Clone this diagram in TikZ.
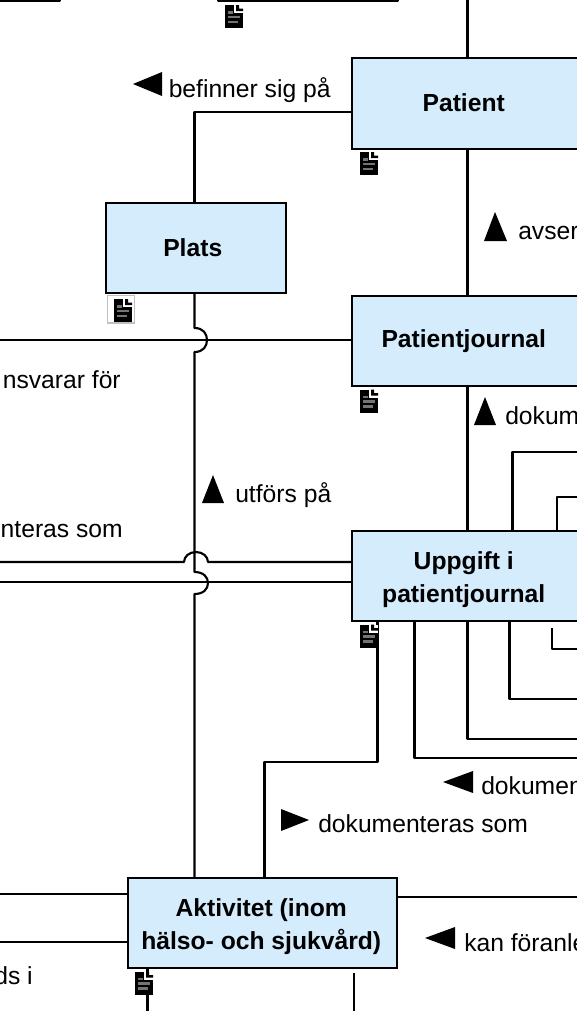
\documentclass[tikz,border=0pt]{standalone}
\usepackage{fontspec}
\setmainfont{Liberation Sans}
\definecolor{boxfill}{HTML}{D4ECFC}
\newcommand{\sh}{\hspace*{2.2pt}}
\newcommand{\low}{\rule{0pt}{18.5pt}}
\tikzset{
  x=0.75pt,y=-0.75pt,
  entity/.style={draw=black,line width=1.8pt,fill=boxfill,inner sep=0pt,align=center,
    font=\fontsize{18.5}{24.6}\selectfont\bfseries},
  link/.style={draw=black,line width=1.6pt,line join=round},
  lab/.style={font=\fontsize{18.5}{22}\selectfont,inner sep=0pt,text=black},
  pics/docicon/.style={code={
    \fill[black] (-9,-11.5) rectangle (9,11.5);
    \fill[white] (0,-11.5) rectangle (9,-3.5);
    \fill[black] (2,-11.5) -- (2,-5.5) -- (9,-5.5) -- (9,-8) -- (5,-8) -- (5,-11.5) -- cycle;
    \fill[black!55] (-6,-5.5) rectangle (-1,-3);
    \fill[black!55] (-6,-1) rectangle (6,1.5);
    \fill[black!55] (-6,4) rectangle (4,6.5);
  }}
}
\newcommand{\ent}[6]{\node[entity,minimum width=#4*0.75pt,minimum height=#5*0.75pt,anchor=north west] (#1) at (#2,#3) {#6};}
\begin{document}
\begin{tikzpicture}
\useasboundingbox (0,0) rectangle (577,1011);
\clip (0,0) rectangle (577,1011);

% free ends
\coordinate (topA) at (467.5,-5);
\coordinate (upL1a) at (-5,-10);
\coordinate (upL1b) at (60,-10);
\coordinate (upL2a) at (218,-10);
\coordinate (upL2b) at (398,-10);
\coordinate (pjL) at (-5,340);
\coordinate (uL1) at (-5,562);
\coordinate (uL2) at (-5,582);
\coordinate (aL1) at (-5,894);
\coordinate (aL2) at (-5,942);
\coordinate (aR1) at (585,897);
\coordinate (aB1) at (147.5,1020);
\coordinate (aB2a) at (354,973);
\coordinate (aB2b) at (354,1020);
\coordinate (r1) at (585,452);
\coordinate (r2) at (585,497);
\coordinate (r3a) at (552,628);
\coordinate (r3b) at (585,649);
\coordinate (r4) at (585,699);
\coordinate (r5) at (585,739);
\coordinate (r6) at (585,758);

% connectors (drawn below the boxes)
\draw[link] (topA) -- (467.5,58);
\draw[link] (352,112) -- (194.5,112) -- (194.5,202);
\draw[link] (467.5,148) -- (467.5,296);
\draw[link] (467.5,385) -- (467.5,531);
\draw[link] (r1) -- (512.5,452) -- (512.5,531);
\draw[link] (r2) -- (557,497) -- (557,531);
\draw[link] (414.5,621) -- (414.5,758) -- (r6);
\draw[link] (467.5,621) -- (467.5,739) -- (r5);
\draw[link] (509.5,621) -- (509.5,699) -- (r4);
\draw[link] (r3a) -- (r3a|-r3b) -- (r3b);
\draw[link] (377.5,621) -- (377.5,762) -- (264.5,762) -- (264.5,878);
\draw[link] (pjL) -- (354,340);
\draw[link] (uL1) -- (184,562) arc[start angle=180,end angle=0,x radius=12,y radius=-10] -- (354,562);
\draw[link] (uL2) -- (354,582);
\draw[link] (aL1) -- (129,894);
\draw[link] (aL2) -- (129,942);
\draw[link] (397,897) -- (aR1);
\draw[link] (147.5,967) -- (aB1);
\draw[link] (aB2a) -- (aB2b);
% long vertical with line jumps
\draw[link] (194.5,293) -- (194.5,328)
  .. controls (203.5,328) and (207,334) .. (207,340)
  .. controls (207,346) and (203.5,352) .. (194.5,352)
  -- (194.5,572)
  .. controls (203.5,572) and (208,577) .. (208,583)
  .. controls (208,589) and (203.5,594) .. (194.5,594)
  -- (194.5,878);

% boxes
\ent{patient}{351}{57}{226}{90.5}{\raisebox{1pt}{Patient}\sh}
\ent{plats}{104.5}{201.5}{180}{90.5}{Plats\sh\sh}
\ent{journal}{351}{295}{226}{89.5}{\raisebox{0.3pt}{Patientjournal}\sh}
\ent{uppgift}{351}{530}{226}{90}{\low Uppgift i\sh\\patientjournal\sh}
\ent{aktivitet}{127}{877}{269}{89.5}{\low Aktivitet (inom\sh\\hälso- och sjukvård)\sh}

% boxes cut by the top edge
\draw[link,line width=1.8pt] (upL1a) -- (-5,0.5) -- (60,0.5) -- (upL1b);
\draw[link,line width=1.8pt] (upL2a) -- (218,0.5) -- (398,0.5) -- (upL2b);

% document icons
\draw[black!25,line width=1pt] (107.5,295.5) rectangle (134.5,323);
\pic at (234,16.5) {docicon};
\pic at (369,163.5) {docicon};
\pic at (123,310.5) {docicon};
\pic at (369,401) {docicon};
\pic at (369,636) {docicon};
\pic at (144,983) {docicon};

% direction triangles
\fill (133,84) -- (162,72) -- (162,96) -- cycle;
\fill (495,212) -- (507,241) -- (484,241) -- cycle;
\fill (485,397) -- (496,425) -- (474,425) -- cycle;
\fill (213,475) -- (224,503) -- (202,503) -- cycle;
\fill (443,782) -- (473,771) -- (473,793) -- cycle;
\fill (309,820) -- (281,809) -- (281,831) -- cycle;
\fill (425,938) -- (455,927) -- (455,949) -- cycle;

% labels
\node[lab,anchor=base west] (l1) at (168.5,97) {befinner sig på};
\node[lab,anchor=base west] (l2) at (518,239) {avser};
\node[lab,anchor=base west] (l3) at (505,424) {dokum};
\node[lab,anchor=base west] (l4) at (235,502) {utförs på};
\node[lab,anchor=base east] (l5) at (121,388) {nsvarar för};
\node[lab,anchor=base east] (l6) at (123,537) {nteras som};
\node[lab,anchor=base west] (l7) at (481,794) {dokumen};
\node[lab,anchor=base west] (l8) at (318,832) {dokumenteras som};
\node[lab,anchor=base west] (l9) at (464,951) {kan föranle};
\node[lab,anchor=base east] (l10) at (33,984) {ds i};
\end{tikzpicture}
\end{document}
